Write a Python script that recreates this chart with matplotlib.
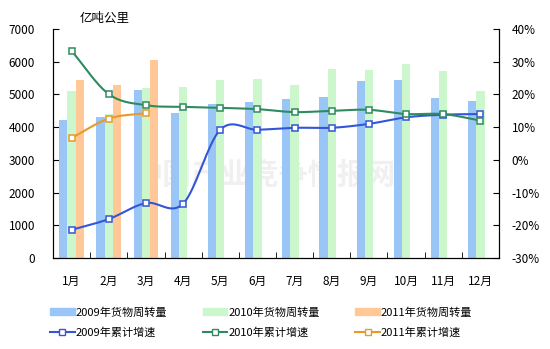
import numpy as np
import matplotlib
matplotlib.use("Agg")
import matplotlib.pyplot as plt
from matplotlib.lines import Line2D
from matplotlib.patches import Patch

plt.rcParams['font.family'] = ['Noto Sans CJK SC', 'DejaVu Sans']

# 月份和数据
months = ["1月", "2月", "3月", "4月", "5月", "6月", "7月", "8月", "9月", "10月", "11月", "12月"]
turnover_2009 = [4230, 4300, 5150, 4440, 4720, 4780, 4870, 4930, 5420, 5450, 4890, 4810]
turnover_2010 = [5120, 4410, 5190, 5240, 5450, 5480, 5300, 5790, 5760, 5930, 5710, 5120]
turnover_2011 = [5430, 5280, 6060]
growth_2009 = [-21.4, -18.1, -13.2, -13.4, 9.2, 9.2, 9.8, 9.8, 11.0, 13.0, 13.8, 14.0]
growth_2010 = [33.3, 20.1, 16.7, 16.2, 15.9, 15.5, 14.6, 15.0, 15.3, 14.0, 14.0, 12.0]
growth_2011 = [6.7, 12.6, 14.3]

bar_colors = ["#99c6f6", "#ccf6cc", "#ffc896"]
line_colors = ["#3355d8", "#2e8b5f", "#e89a28"]


def smooth(x, y, n=20):
    # 平滑曲线 (Catmull-Rom)
    x = np.asarray(x, float)
    y = np.asarray(y, float)
    if len(x) < 3:
        return x, y
    mx = np.gradient(x)
    my = np.empty_like(y)
    my[1:-1] = (y[2:] - y[:-2]) / 2
    my[0] = y[1] - y[0]
    my[-1] = y[-1] - y[-2]
    xs, ys = [], []
    t = np.linspace(0, 1, n)
    h00 = 2 * t**3 - 3 * t**2 + 1
    h10 = t**3 - 2 * t**2 + t
    h01 = -2 * t**3 + 3 * t**2
    h11 = t**3 - t**2
    for i in range(len(x) - 1):
        xs.extend(h00 * x[i] + h10 * mx[i] + h01 * x[i + 1] + h11 * mx[i + 1])
        ys.extend(h00 * y[i] + h10 * my[i] + h01 * y[i + 1] + h11 * my[i + 1])
    return np.array(xs), np.array(ys)


fig = plt.figure(figsize=(5.5, 3.49), dpi=100)
ax = fig.add_axes([53 / 550, 1 - 258 / 349, 446 / 550, 229 / 349])
ax2 = ax.twinx()

x = np.arange(len(months))
w = 0.22
ax.bar(x - w, turnover_2009, w, color=bar_colors[0], zorder=2)
ax.bar(x, turnover_2010, w, color=bar_colors[1], zorder=2)
ax.bar(np.arange(len(turnover_2011)) + w, turnover_2011, w, color=bar_colors[2], zorder=2)

# 水印
ax.text(5.2, 2550, "中国产业竞争情报网", fontsize=21, fontweight='bold', color="#f0f0f0",
        ha='center', va='center', zorder=1)

for vals, c in zip([growth_2009, growth_2010, growth_2011], line_colors):
    xi = np.arange(len(vals))
    sx, sy = smooth(xi, vals)
    ax2.plot(sx, sy, color=c, lw=1.5, zorder=3)
    ax2.plot(xi, vals, ls='none', marker='s', ms=4, mfc='white', mec=c, mew=1.1, zorder=4)

ax.set_xlim(-0.5, 11.5)
ax.set_ylim(0, 7000)
ax.set_yticks(range(0, 7001, 1000))
ax.set_xticks(x)
ax.set_xticklabels(months, fontsize=8.5)
ax.set_xticks(np.arange(-0.5, 12, 1), minor=True)
ax.tick_params(axis='x', which='major', length=0, pad=12)
ax.tick_params(axis='x', which='minor', length=4, direction='in')
ax.tick_params(axis='y', labelsize=8.5, length=4, direction='in', pad=13)

ax2.set_ylim(-30, 40)
ax2.set_yticks(range(-30, 41, 10))
ax2.set_yticklabels([f"{v}%" for v in range(-30, 41, 10)], fontsize=8.5)
ax2.tick_params(axis='y', length=4, direction='in', pad=9)

for a in (ax, ax2):
    a.spines['top'].set_visible(False)
ax.set_zorder(ax2.get_zorder() - 1)
ax2.patch.set_visible(False)

fig.text(80 / 550, 1 - 18 / 349, "亿吨公里", fontsize=9, va='center')

handles = [
    Patch(color=bar_colors[0], label="2009年货物周转量"),
    Line2D([], [], color=line_colors[0], lw=1.5, marker='s', ms=4, mfc='white', mec=line_colors[0], label="2009年累计增速"),
    Patch(color=bar_colors[1], label="2010年货物周转量"),
    Line2D([], [], color=line_colors[1], lw=1.5, marker='s', ms=4, mfc='white', mec=line_colors[1], label="2010年累计增速"),
    Patch(color=bar_colors[2], label="2011年货物周转量"),
    Line2D([], [], color=line_colors[2], lw=1.5, marker='s', ms=4, mfc='white', mec=line_colors[2], label="2011年累计增速"),
]
fig.legend(handles=handles, ncol=3, loc='center', bbox_to_anchor=(0.475, 1 - 322.5 / 349),
           frameon=False, fontsize=8, handlelength=2.2, handleheight=0.55,
           handletextpad=0.1, columnspacing=3.2, labelspacing=0.85)

fig.savefig("out.png", dpi=100)
